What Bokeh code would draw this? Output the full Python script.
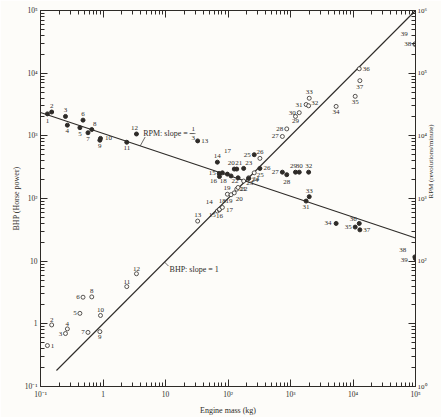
import numpy as np
from bokeh.plotting import figure
from bokeh.models import Range1d, LogScale, LogAxis, FixedTicker, CustomJSTickFormatter, ColumnDataSource
from bokeh.core.properties import value
from bokeh.embed import file_html
from bokeh.resources import INLINE

# ---------------- data ----------------
engine_no = list(range(1, 40))
mass_kg = [0.129, 0.151, 0.251, 0.269, 0.427, 0.479, 0.575, 0.661, 0.891, 0.912,
           2.40, 3.43, 32.7, 67.6, 72.4, 73.0, 81.3, 97.7, 112, 126,
           138, 145, 178, 214, 263, 324, 741, 871, 1202, 1380,
           1778, 1950, 1995, 5370, 10840, 12590, 12880, 97700, 99500]
bhp = [0.45, 0.96, 0.70, 0.83, 1.47, 2.66, 0.73, 2.69, 0.75, 1.36,
       3.93, 6.3, 43.6, 63, 66, 67, 72, 117, 115, 123,
       141, 150, 190, 214, 257, 437, 977, 1290, 2040, 2340,
       3160, 3020, 3980, 2950, 4270, 11750, 7590, 28800, 29500]
rpm = [22400, 24000, 20400, 14800, 13500, 17800, 11200, 12600, 8500, 9100,
       7900, 10700, 8300, 3800, 2510, 2240, 2570, 2450, 2290, 2950,
       2950, 2140, 3020, 2090, 5000, 3020, 2630, 2400, 2630, 2630,
       910, 2630, 1070, 400, 350, 400, 316, 117, 110]

# fitted lines: BHP = 1 * M ; RPM = a * M^(-1/3)
bhp_line_mass = [0.18, 1e5]
bhp_coef, bhp_slope = 1.0, 1.0
rpm_line_mass = [0.1, 1e5]
rpm_coef, rpm_slope = 10900.0, -1.0 / 3.0

# tick values
decades_mass = [0.1, 1, 10, 1e2, 1e3, 1e4, 1e5]
decades_bhp = [0.1, 1, 10, 1e2, 1e3, 1e4, 1e5]
decades_rpm = [1, 10, 1e2, 1e3, 1e4, 1e5, 1e6]

# ---------------- label placement (screen px, +y = down) ----------------
bhp_dx = [5, 0, -5, 0, -5, -5, -5, 0, 0, 0,
          0, 0, 0, -8, -7, 0, 7, -5, -2, 5,
          6, 6, 6, 6, 6, 0, -7, -7, 0, -7,
          -7, 6, 0, 0, 0, 7, 0, -7, -11]
bhp_dy = [0, -5, 0, -5, 0, 0, 0, -6, 5, -5,
          -5, -5, -6, -9, 5, 7, 3, 7, 6, 6,
          0, 2, 2, 2, 2, -6, 0, 0, 5, 0,
          0, -3, -6, 6, 6, 0, 6, 0, -10]
rpm_dx = [0, 0, 0, 0, 0, 0, 0, 3, 0, 8,
          0, -2, 7, 0, -7, -6, 5, -4, -4, -3,
          2, -3, 5, 7, -7, 7, -7, 0, -2, 0,
          0, 0, 0, -8, -7, -6, 7, -12, -11]
rpm_dy = [7, -6, -6, 6, 6, -6, 6, -6, 6, 0,
          6, -6, 0, -6, 0, 4, -22, 7, 12, -6,
          -6, 3, -5, 1, 0, 0, 0, 7, -6, -6,
          6, -6, -6, 0, 0, -4, 0, -7, 1]

ink = "#2e2b28"
paper = "#fdfcf9"
serif = "Liberation Serif"

p = figure(width=441, height=417, x_axis_type="log", y_axis_type="log",
           x_range=Range1d(0.1, 1e5), y_range=Range1d(0.1, 1e5),
           output_backend="svg", toolbar_location=None,
           min_border_left=40, min_border_right=21, min_border_top=10, min_border_bottom=28,
           background_fill_color=paper, border_fill_color=paper)
p.extra_y_ranges = {"rpm": Range1d(1, 1e6)}
p.extra_y_scales = {"rpm": LogScale()}
p.grid.visible = False
p.outline_line_color = ink
p.outline_line_width = 1

sup_js = """
const sup = {'-':'\u207b','0':'\u2070','1':'\u00b9','2':'\u00b2','3':'\u00b3','4':'\u2074','5':'\u2075','6':'\u2076','7':'\u2077','8':'\u2078','9':'\u2079'};
const e = Math.round(Math.log10(tick));
"""
fmt_main = CustomJSTickFormatter(code=sup_js + """
if (e == 0) return '1';
if (e == 1) return '10';
return '10' + String(e).split('').map(c => sup[c]).join('');
""")
fmt_rpm = CustomJSTickFormatter(code=sup_js + """
if (e == 1) return '';
return '10' + String(e).split('').map(c => sup[c]).join('');
""")
fmt_blank = CustomJSTickFormatter(code="return '';")


def minors(decs):
    out = []
    for d in decs[:-1]:
        for k in range(2, 10):
            out.append(d * k)
    return out


def style(ax, ticks, fmt):
    ax.ticker = FixedTicker(ticks=ticks, minor_ticks=minors(ticks))
    ax.formatter = fmt
    ax.axis_line_color = ink
    ax.axis_line_width = 1
    ax.major_tick_line_color = ink
    ax.minor_tick_line_color = ink
    ax.major_tick_in = 7
    ax.major_tick_out = 0
    ax.minor_tick_in = 4
    ax.minor_tick_out = 0
    ax.major_label_text_font = serif
    ax.major_label_text_font_size = "7.5px"
    ax.major_label_text_color = ink
    ax.major_label_standoff = 3
    ax.axis_label_text_font = serif
    ax.axis_label_text_font_size = "8px"
    ax.axis_label_text_font_style = "normal"
    ax.axis_label_text_color = ink
    ax.axis_label_standoff = 4


style(p.xaxis[0], decades_mass, fmt_main)
style(p.yaxis[0], decades_bhp, fmt_main)
p.xaxis[0].axis_label = "Engine mass (kg)"
p.yaxis[0].axis_label = "BHP (Horse power)"
p.yaxis[0].axis_label_standoff = 1

top = LogAxis()
style(top, decades_mass, fmt_blank)
top.major_label_standoff = 0
top.major_label_text_font_size = "0px"
p.add_layout(top, "above")

right = LogAxis(y_range_name="rpm")
style(right, decades_rpm, fmt_rpm)
right.major_label_standoff = 2
right.major_label_text_font_size = "7px"
right.axis_label = "RPM (revolutions/minute)"
right.axis_label_text_font_size = "7px"
right.axis_label_standoff = 1
if hasattr(right, "axis_label_orientation"):
    right.axis_label_orientation = np.pi / 2
p.add_layout(right, "right")

# ---------------- fitted lines ----------------
bl = np.array(bhp_line_mass)
p.line(bl, bhp_coef * bl ** bhp_slope, line_color=ink, line_width=1.1)
rl = np.array(rpm_line_mass)
p.line(rl, rpm_coef * rl ** rpm_slope, line_color=ink, line_width=1.1, y_range_name="rpm")

# line annotations anchored on the lines
m_r = 3.94
r_r = rpm_coef * m_r ** rpm_slope
m_b = 9.66
b_b = bhp_coef * m_b ** bhp_slope
px_dec = 63.3
p.segment(x0=[m_r], y0=[r_r], x1=[m_r * 10 ** (5 / px_dec)], y1=[r_r * 10 ** (9 / px_dec)],
          line_color=ink, line_width=0.7, y_range_name="rpm")
p.segment(x0=[m_b], y0=[b_b], x1=[m_b * 10 ** (4 / px_dec)], y1=[b_b / 10 ** (4 / px_dec)],
          line_color=ink, line_width=0.7)
p.text(x=[m_r], y=[r_r], text=["RPM: slope = \u2212"], x_offset=[3], y_offset=[-12],
       text_font=value(serif), text_font_size="8px", text_color=ink,
       text_align="left", text_baseline="middle", y_range_name="rpm")
p.text(x=[m_r, m_r], y=[r_r, r_r], text=["1", "3"], x_offset=[53, 53], y_offset=[-17, -8],
       text_font=value(serif), text_font_size="7px", text_color=ink,
       text_align="center", text_baseline="middle", y_range_name="rpm")
p.segment(x0=[m_r * 10 ** (50 / px_dec)], y0=[r_r * 10 ** (12.5 / px_dec)],
          x1=[m_r * 10 ** (56 / px_dec)], y1=[r_r * 10 ** (12.5 / px_dec)],
          line_color=ink, line_width=0.6, y_range_name="rpm")
p.text(x=[m_b], y=[b_b], text=["BHP: slope = 1"], x_offset=[5], y_offset=[7],
       text_font=value(serif), text_font_size="8px", text_color=ink,
       text_align="left", text_baseline="middle")

# ---------------- data points ----------------
src = ColumnDataSource(dict(mass=mass_kg, bhp=bhp, rpm=rpm,
                            lab=[str(n) for n in engine_no],
                            bdx=bhp_dx, bdy=bhp_dy, rdx=rpm_dx, rdy=rpm_dy))
p.scatter("mass", "bhp", source=src, marker="circle", size=4,
          fill_color=paper, line_color=ink, line_width=0.8)
p.scatter("mass", "rpm", source=src, marker="circle", size=4,
          fill_color=ink, line_color=ink, y_range_name="rpm")
p.text("mass", "bhp", text="lab", source=src, x_offset="bdx", y_offset="bdy",
       text_font=value(serif), text_font_size="7px", text_color=ink,
       text_align="center", text_baseline="middle")
p.text("mass", "rpm", text="lab", source=src, x_offset="rdx", y_offset="rdy",
       text_font=value(serif), text_font_size="7px", text_color=ink,
       text_align="center", text_baseline="middle", y_range_name="rpm")

open("out.html", "w").write(file_html(p, INLINE))
